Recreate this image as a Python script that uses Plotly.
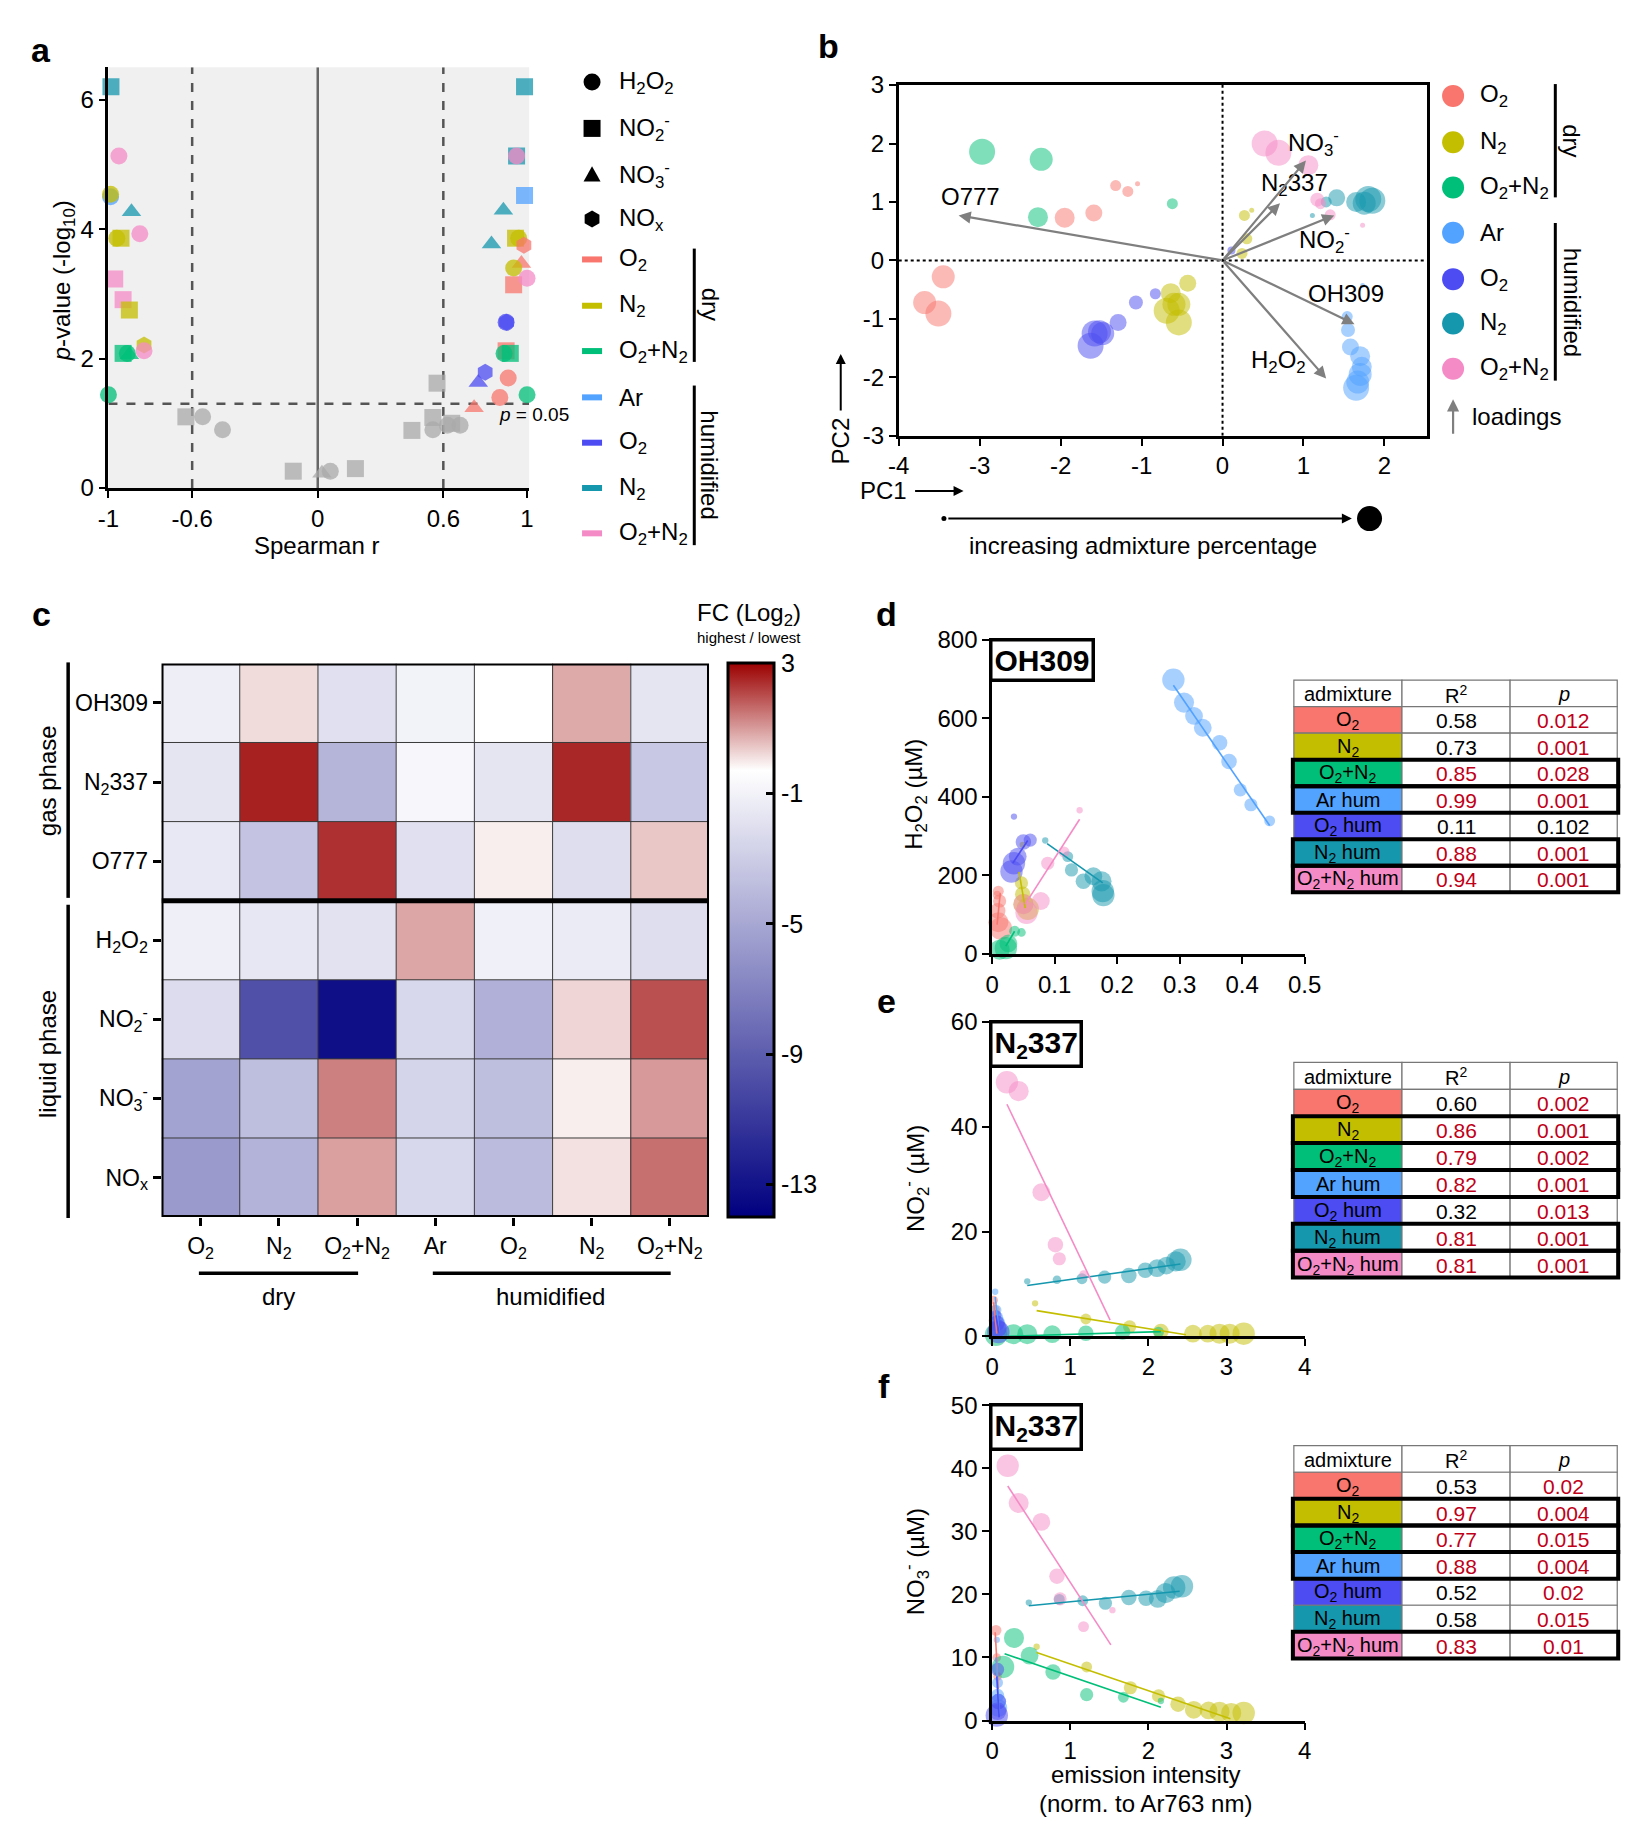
import plotly.graph_objects as go

W, H = 1640, 1828
FONT = "Liberation Sans, Arial, sans-serif"

# ---------------------------------------------------------------- categories
gas_keys = ["O2", "N2", "O2N2", "Ar_h", "O2_h", "N2_h", "O2N2_h"]
gas_color = {"O2": "#F8766D", "N2": "#C4BE00", "O2N2": "#00BF78", "Ar_h": "#52A2FF",
             "O2_h": "#4C4CF2", "N2_h": "#1597AE", "O2N2_h": "#F58BC6", "ns": "#A9A9A9"}
gas_names = ["O<sub>2</sub>", "N<sub>2</sub>", "O<sub>2</sub>+N<sub>2</sub>", "Ar",
             "O<sub>2</sub>", "N<sub>2</sub>", "O<sub>2</sub>+N<sub>2</sub>"]
table_names = ["O<sub>2</sub>", "N<sub>2</sub>", "O<sub>2</sub>+N<sub>2</sub>", "Ar hum",
               "O<sub>2</sub> hum", "N<sub>2</sub> hum", "O<sub>2</sub>+N<sub>2</sub> hum"]
species_names = ["H<sub>2</sub>O<sub>2</sub>", "NO<sub>2</sub><sup>-</sup>",
                 "NO<sub>3</sub><sup>-</sup>", "NO<sub>x</sub>"]
species_symbol = {"H2O2": "circle", "NO2": "square", "NO3": "triangle-up", "NOx": "hexagon"}

# ---------------------------------------------------------------- panel a (volcano)
a_r = [-0.988, -0.95, -0.99, -0.99, -0.89, -0.94, -0.96, -0.85, -0.97, -0.93, -0.90, -0.83,
       -0.83, -0.93, -0.90, -0.91, -1.0,
       -0.63, -0.55, -0.455, -0.117, 0.02, 0.06, 0.18, 0.45, 0.55, 0.55, 0.57, 0.64, 0.62, 0.68,
       0.988, 0.95, 0.95, 0.988, 0.887, 0.83, 0.945, 0.96, 0.985, 0.973, 0.936, 0.936, 1.0,
       0.902, 0.90, 0.90, 0.92, 0.89, 0.80, 0.767, 0.91, 0.87, 0.747, 1.0]
a_logp = [6.2, 5.13, 4.50, 4.54, 4.27, 3.86, 3.86, 3.93, 3.23, 2.91, 2.75, 2.21,
          2.12, 2.08, 2.06, 2.08, 1.44,
          1.10, 1.10, 0.90, 0.26, 0.23, 0.26, 0.30, 0.89, 0.90, 1.09, 1.62, 1.00, 0.97, 0.97,
          6.2, 5.13, 5.13, 4.52, 4.29, 3.77, 3.86, 3.86, 3.75, 3.47, 3.40, 3.14, 3.24,
          2.56, 2.56, 2.12, 2.08, 2.08, 1.79, 1.63, 1.70, 1.40, 1.24, 1.44]
a_species = ["NO2", "H2O2", "H2O2", "H2O2", "NO3", "NO2", "H2O2", "H2O2", "NO2", "NO2", "NO2", "NOx",
             "H2O2", "NO2", "NO3", "H2O2", "H2O2",
             "NO2", "H2O2", "H2O2", "NO2", "NO3", "H2O2", "NO2", "NO2", "H2O2", "NO2", "NO2", "NO2",
             "H2O2", "H2O2",
             "NO2", "NO2", "H2O2", "NO2", "NO3", "NO3", "NO2", "H2O2", "NOx", "NO3", "H2O2", "NO2",
             "H2O2", "NOx", "H2O2", "NO2", "NO2", "H2O2", "NOx", "NO3", "H2O2", "H2O2", "NO3", "H2O2"]
a_gas = ["N2_h", "O2N2_h", "Ar_h", "N2", "N2_h", "N2", "N2", "O2N2_h", "O2N2_h", "O2N2_h", "N2", "N2",
         "O2N2_h", "O2N2", "O2N2", "O2N2", "O2N2",
         "ns", "ns", "ns", "ns", "ns", "ns", "ns", "ns", "ns", "ns", "ns", "ns", "ns", "ns",
         "N2_h", "N2_h", "O2N2_h", "Ar_h", "N2_h", "N2_h", "N2", "N2", "O2", "O2", "N2", "O2",
         "O2N2_h", "O2_h", "O2_h", "O2", "O2N2", "O2N2", "O2_h", "O2_h", "O2", "O2", "O2", "O2N2"]

# ---------------------------------------------------------------- panel b (PCA)
b_gas = ["O2"] * 8 + ["O2N2"] * 4 + ["N2"] * 10 + ["O2_h"] * 8 + ["Ar_h"] * 9 + ["N2_h"] * 7 + ["O2N2_h"] * 7
b_pc1 = [-3.45, -3.68, -3.51, -1.95, -1.59, -1.32, -1.17, -1.05,
         -2.97, -2.24, -2.28, -0.62,
         -0.43, -0.64, -0.54, -0.69, -0.54, -0.60, 0.27, 0.36, 0.30, 0.24,
         -1.63, -1.58, -1.52, -1.48, -1.29, -1.07, -0.83, 0.11,
         1.54, 1.55, 1.58, 1.70, 1.72, 1.70, 1.67, 1.65, 1.73,
         1.75, 1.80, 1.85, 1.65, 1.41, 1.28, 1.11,
         0.52, 0.69, 1.06, 1.17, 1.33, 1.73, 1.21]
b_pc2 = [-0.28, -0.72, -0.91, 0.73, 0.81, 1.28, 1.18, 1.31,
         1.86, 1.73, 0.74, 0.97,
         -0.39, -0.56, -0.75, -0.86, -1.06, -0.75, 0.77, 0.86, 0.37, 0.12,
         -1.46, -1.25, -1.22, -1.25, -1.06, -0.72, -0.57, 0.17,
         -0.96, -1.19, -1.48, -1.64, -1.82, -1.95, -2.08, -2.18, -0.43,
         0.98, 1.05, 1.02, 1.00, 1.07, 1.00, 0.77,
         2.00, 1.84, 1.63, 1.04, 0.78, 0.60, 0.97]
b_admix = [7, 7, 8, 6, 5, 3, 3, 1,
           8, 7, 6, 3,
           5, 6, 7, 8, 8, 7, 3, 1, 3, 3,
           8, 8, 7, 7, 5, 4, 3, 2,
           3, 4, 5, 6, 6, 7, 7, 8, 1,
           7, 8, 8, 6, 5, 3, 1,
           8, 8, 6, 4, 3, 1, 3]
load_name = ["O777", "N<sub>2</sub>337", "NO<sub>3</sub><sup>-</sup>", "NO<sub>2</sub><sup>-</sup>",
             "OH309", "H<sub>2</sub>O<sub>2</sub>"]
load_pc1 = [-3.26, 0.71, 1.03, 1.38, 1.63, 1.28]
load_pc2 = [0.77, 0.98, 1.71, 0.77, -1.09, -2.02]

# ---------------------------------------------------------------- panel c (heatmap, FC log2)
hm_rows = ["OH309", "N<sub>2</sub>337", "O777", "H<sub>2</sub>O<sub>2</sub>",
           "NO<sub>2</sub><sup>-</sup>", "NO<sub>3</sub><sup>-</sup>", "NO<sub>x</sub>"]
hm_cols = gas_names
z_oh309 = [-1.2, 0.15, -1.95, -0.99, -0.3, 0.82, -1.67]
z_n2337 = [-1.67, 2.57, -4.27, -0.78, -1.67, 2.5, -3.26]
z_o777 = [-1.53, -3.45, 2.38, -1.95, -0.08, -2.08, 0.43]
z_h2o2 = [-1.16, -1.6, -1.85, 0.85, -1.1, -1.37, -2.08]
z_no2 = [-2.18, -9.7, -13.2, -2.4, -4.55, 0.24, 1.97]
z_no3 = [-5.24, -3.8, 1.35, -2.6, -3.8, -0.08, 1.02]
z_nox = [-5.7, -4.4, 0.93, -2.4, -3.95, 0.1, 1.55]
cbar_ticks = [3, -1, -5, -9, -13]

# ---------------------------------------------------------------- panel d (H2O2 vs OH309)
d_gas = ["O2"] * 6 + ["N2"] * 5 + ["O2N2"] * 5 + ["Ar_h"] * 9 + ["O2_h"] * 6 + ["N2_h"] * 8 + ["O2N2_h"] * 6
d_x = [0.008, 0.010, 0.012, 0.009, 0.010, 0.014,
       0.049, 0.047, 0.049, 0.050, 0.057,
       0.047, 0.036, 0.026, 0.012, 0.022,
       0.444, 0.414, 0.397, 0.379, 0.364, 0.337, 0.323, 0.307, 0.290,
       0.035, 0.061, 0.050, 0.041, 0.035, 0.031,
       0.085, 0.121, 0.127, 0.146, 0.162, 0.175, 0.177, 0.178,
       0.140, 0.115, 0.089, 0.078, 0.050, 0.055]
d_y = [150, 160, 135, 110, 81, 65,
       278, 181, 152, 127, 115,
       55, 58, 27, 11, 15,
       339, 380, 418, 490, 538, 576, 606, 640, 698,
       350, 290, 285, 248, 231, 210,
       289, 248, 214, 185, 198, 185, 160, 150,
       366, 260, 231, 135, 127, 105]
d_admix = [2, 3, 4, 5, 7, 8,
           1, 4, 5, 7, 8,
           2, 3, 6, 7, 8,
           3, 4, 4, 5, 5, 6, 6, 7, 8,
           1, 4, 5, 6, 8, 8,
           1, 3, 4, 5, 6, 7, 8, 8,
           1, 3, 4, 6, 7, 8]
d_fit_x0 = [0.008, 0.043, 0.022, 0.290, 0.033, 0.088, 0.053]
d_fit_x1 = [0.013, 0.053, 0.036, 0.444, 0.057, 0.177, 0.140]
d_fit_y0 = [75, 209, 20, 684, 231, 281, 127]
d_fit_y1 = [155, 117, 58, 327, 289, 181, 343]
d_r2 = [0.58, 0.73, 0.85, 0.99, 0.11, 0.88, 0.94]
d_p = [0.012, 0.001, 0.028, 0.001, 0.102, 0.001, 0.001]

# ---------------------------------------------------------------- panel e (NO2- vs N2 337)
e_gas = ["O2"] * 4 + ["N2"] * 9 + ["O2N2"] * 7 + ["Ar_h"] * 5 + ["O2_h"] * 4 + ["N2_h"] * 10 + ["O2N2_h"] * 6
e_x = [0.02, 0.03, 0.04, 0.05,
       0.55, 1.20, 1.76, 2.16, 2.57, 2.76, 2.91, 3.04, 3.22,
       0.05, 0.27, 0.45, 0.77, 1.20, 1.67, 2.13,
       0.04, 0.05, 0.06, 0.07, 0.08,
       0.05, 0.06, 0.07, 0.08,
       0.45, 0.83, 1.15, 1.44, 1.75, 1.96, 2.11, 2.23, 2.35, 2.41,
       0.19, 0.34, 0.63, 0.81, 0.86, 1.17]
e_y = [6.9, 5.0, 3.0, 1.0,
       6.3, 3.3, 1.8, 0.9, 0.5, 0.5, 0.5, 0.5, 0.5,
       0.3, 0.4, 0.4, 0.4, 0.6, 0.8, 0.8,
       8.5, 5.0, 3.5, 2.5, 1.5,
       4.0, 2.5, 1.5, 0.8,
       10.5, 10.8, 11.0, 11.3, 11.6, 12.6, 13.0, 13.5, 14.3, 14.6,
       48.5, 46.8, 27.5, 17.5, 14.8, 11.8]
e_admix = [2, 3, 4, 5,
           1, 3, 4, 5, 6, 6, 7, 7, 8,
           8, 7, 7, 6, 5, 5, 3,
           1, 3, 4, 5, 6,
           3, 5, 6, 8,
           1, 2, 3, 4, 5, 5, 6, 6, 7, 8,
           8, 7, 6, 5, 4, 2]
e_fit_x0 = [0.02, 0.57, 0.20, 0.04, 0.05, 0.45, 0.19]
e_fit_x1 = [0.06, 2.48, 2.16, 0.09, 0.09, 2.41, 1.51]
e_fit_y0 = [6.5, 4.9, 0.0, 7.5, 4.0, 9.7, 44.3]
e_fit_y1 = [0.5, 0.3, 0.9, 0.5, 0.5, 13.8, 3.1]
e_r2 = [0.60, 0.86, 0.79, 0.82, 0.32, 0.81, 0.81]
e_p = [0.002, 0.001, 0.002, 0.001, 0.013, 0.001, 0.001]

# ---------------------------------------------------------------- panel f (NO3- vs N2 337)
f_gas = ["O2"] * 3 + ["N2"] * 10 + ["O2N2"] * 7 + ["Ar_h"] * 5 + ["O2_h"] * 4 + ["N2_h"] * 10 + ["O2N2_h"] * 7
f_x = [0.05, 0.06, 0.07,
       0.57, 1.21, 1.77, 2.13, 2.38, 2.58, 2.77, 2.91, 3.06, 3.22,
       2.16, 1.68, 1.21, 0.78, 0.48, 0.28, 0.14,
       0.06, 0.07, 0.07, 0.08, 0.08,
       0.07, 0.08, 0.07, 0.06,
       0.47, 0.86, 1.16, 1.45, 1.75, 1.97, 2.12, 2.22, 2.33, 2.43,
       1.54, 1.17, 0.87, 0.83, 0.63, 0.34, 0.20]
f_y = [14.3, 10.0, 7.0,
       11.7, 8.5, 5.2, 3.9, 2.6, 1.7, 1.6, 1.4, 1.2, 1.2,
       3.1, 3.7, 4.1, 7.7, 10.3, 13.1, 8.5,
       12.8, 6.0, 4.0, 3.0, 2.0,
       8.1, 3.0, 1.5, 0.8,
       18.7, 19.2, 19.0, 18.6, 19.5, 19.4, 19.3, 20.2, 21.1, 21.3,
       17.5, 14.9, 19.3, 22.9, 31.5, 34.5, 40.4]
f_admix = [3, 2, 2,
           1, 3, 4, 4, 5, 6, 6, 7, 7, 8,
           1, 3, 4, 5, 6, 7, 8,
           1, 3, 4, 5, 6,
           4, 5, 6, 8,
           1, 3, 3, 4, 5, 5, 6, 7, 8, 8,
           1, 3, 4, 5, 6, 7, 8]
f_fit_x0 = [0.04, 0.57, 0.16, 0.05, 0.06, 0.47, 0.20]
f_fit_x1 = [0.08, 3.05, 2.16, 0.09, 0.09, 2.40, 1.52]
f_fit_y0 = [14.0, 10.8, 10.6, 10.0, 7.0, 18.2, 37.2]
f_fit_y1 = [5.0, 0.3, 2.1, 1.0, 0.5, 20.5, 12.0]
f_r2 = [0.53, 0.97, 0.77, 0.88, 0.52, 0.58, 0.83]
f_p = [0.02, 0.004, 0.015, 0.004, 0.02, 0.015, 0.01]


# ---------------------------------------------------------------- helpers
def px(x):
    return x / W


def py(y):
    return 1 - y / H


def lab(v):
    # plain hyphen minus like the original figure
    return f"{v:g}".replace("\u2212", "-")


ann = []
shapes = []


def txt(x, y, s, size=24, xa="center", ya="middle", angle=0, color="black"):
    ann.append(dict(x=px(x), y=py(y), xref="paper", yref="paper", text=s, showarrow=False,
                    font=dict(size=size, family=FONT, color=color), xanchor=xa, yanchor=ya,
                    textangle=angle))


def pline(x0, y0, x1, y1, w=3, color="black"):
    shapes.append(dict(type="line", xref="paper", yref="paper", x0=px(x0), y0=py(y0),
                       x1=px(x1), y1=py(y1), line=dict(color=color, width=w)))


def prect(x0, y0, x1, y1, fill="rgba(0,0,0,0)", lw=1, lc="#777777"):
    shapes.append(dict(type="rect", xref="paper", yref="paper", x0=px(x0), y0=py(y0),
                       x1=px(x1), y1=py(y1), fillcolor=fill, line=dict(color=lc, width=lw)))


def glyph(cx, cy, kind, size, color="black"):
    # legend key drawn as a pixel sized shape
    r = size / 2
    base = dict(xref="paper", yref="paper", xsizemode="pixel", ysizemode="pixel",
                xanchor=px(cx), yanchor=py(cy), fillcolor=color, line=dict(width=0))
    if kind == "circle":
        shapes.append(dict(type="circle", x0=-r, x1=r, y0=-r, y1=r, **base))
    elif kind == "square":
        shapes.append(dict(type="rect", x0=-r, x1=r, y0=-r, y1=r, **base))
    elif kind == "dash":
        shapes.append(dict(type="rect", x0=-r, x1=r, y0=-3, y1=3, **base))
    elif kind == "triangle-up":
        shapes.append(dict(type="path", path=f"M {-r},{-r*0.8} L {r},{-r*0.8} L 0,{r} Z", **base))
    elif kind == "hexagon":
        h = r * 0.87
        shapes.append(dict(type="path",
                           path=f"M 0,{r} L {h},{r/2} L {h},{-r/2} L 0,{-r} L {-h},{-r/2} L {-h},{r/2} Z",
                           **base))


axis = dict(showline=True, linecolor="black", linewidth=2.5, ticks="outside", ticklen=7,
            tickwidth=2, tickcolor="black", showgrid=False, zeroline=False,
            tickfont=dict(size=24, family=FONT, color="black"))

fig = go.Figure()

# ================================================================= panel a
fig.add_trace(go.Scatter(
    x=a_r, y=a_logp, mode="markers", xaxis="x", yaxis="y", cliponaxis=False, hoverinfo="skip",
    marker=dict(symbol=[species_symbol[s] for s in a_species],
                color=[gas_color[g] for g in a_gas], size=17, opacity=0.75, line=dict(width=0))))

shapes.append(dict(type="rect", xref="x domain", yref="y domain", x0=0, x1=1, y0=0, y1=1,
                   fillcolor="#F0F0F0", line=dict(width=0), layer="below"))
for xv in (-0.6, 0.6):
    shapes.append(dict(type="line", xref="x", yref="y", x0=xv, x1=xv, y0=0, y1=6.5,
                       line=dict(color="#555555", width=2.5, dash="dash"), layer="below"))
shapes.append(dict(type="line", xref="x", yref="y", x0=0, x1=0, y0=0, y1=6.5,
                   line=dict(color="#666666", width=2.5), layer="below"))
shapes.append(dict(type="line", xref="x", yref="y", x0=-1, x1=1.01, y0=1.301, y1=1.301,
                   line=dict(color="#555555", width=2.5, dash="dash"), layer="below"))

txt(524, 398, "<i>p</i> = 0.05", size=19)
txt(303, 531, "Spearman r", size=24)
txt(45, 263, "<i>p</i>-value (-log<sub>10</sub>)", size=24, angle=-90)

leg_a_y = [61, 108, 155, 200, 241, 288, 334, 381, 427, 473, 519]
for i, (name, kind) in enumerate(zip(species_names, ["circle", "square", "triangle-up", "hexagon"])):
    glyph(583, leg_a_y[i], kind, 17)
    txt(608, leg_a_y[i], name, size=24, xa="left")
for i, g in enumerate(gas_keys):
    glyph(583, leg_a_y[4 + i], "dash", 20, gas_color[g])
    txt(608, leg_a_y[4 + i], gas_names[i], size=24, xa="left")
pline(687, 230, 687, 345, w=3)
pline(687, 369, 687, 531, w=3)
txt(703, 287, "dry", size=24, angle=90)
txt(703, 450, "humidified", size=24, angle=90)

# ================================================================= panel b
fig.add_trace(go.Scatter(
    x=b_pc1, y=b_pc2, mode="markers", xaxis="x2", yaxis="y2", cliponaxis=False, hoverinfo="skip",
    marker=dict(color=[gas_color[g] for g in b_gas], size=[2 + 3 * a for a in b_admix],
                opacity=0.5, line=dict(width=0))))
shapes.append(dict(type="line", xref="x2", yref="y2", x0=0, x1=0, y0=-3, y1=3,
                   line=dict(color="black", width=2, dash="dot")))
shapes.append(dict(type="line", xref="x2", yref="y2", x0=-4, x1=2.52, y0=0, y1=0,
                   line=dict(color="black", width=2, dash="dot")))

label_shift = [(12, 19), (14, 19), (8, 17), (-10, -25), (-8, 31), (-48, 17)]
for name, lx, ly, (sx, sy) in zip(load_name, load_pc1, load_pc2, label_shift):
    ann.append(dict(x=lx, y=ly, xref="x2", yref="y2", ax=0, ay=0, axref="x2", ayref="y2",
                    text="", showarrow=True, arrowhead=2, arrowsize=1.1, arrowwidth=2.2,
                    arrowcolor="#7F7F7F"))
    ann.append(dict(x=lx, y=ly, xref="x2", yref="y2", text=name, showarrow=False,
                    xshift=sx, yshift=sy, font=dict(size=24, family=FONT, color="black")))

leg_b_y = [75, 122, 168, 214, 261, 306, 352]
for i, g in enumerate(gas_keys):
    glyph(1459, leg_b_y[i], "circle", 22, gas_color[g])
    txt(1484, leg_b_y[i], gas_names[i], size=24, xa="left")
pline(1563, 63, 1563, 178, w=3)
pline(1563, 204, 1563, 364, w=3)
txt(1580, 120, "dry", size=24, angle=90)
txt(1580, 284, "humidified", size=24, angle=90)
ann.append(dict(x=px(1459), y=py(383), xref="paper", yref="paper", ax=0, ay=36, text="",
                showarrow=True, arrowhead=2, arrowsize=1.1, arrowwidth=2.2, arrowcolor="#7F7F7F"))
txt(1476, 400, "loadings", size=24, xa="left")

txt(836, 425, "PC2", size=24, angle=-90)
ann.append(dict(x=px(836), y=py(337), xref="paper", yref="paper", ax=0, ay=58, text="",
                showarrow=True, arrowhead=2, arrowsize=1, arrowwidth=2, arrowcolor="black"))
txt(880, 476, "PC1", size=24)
ann.append(dict(x=px(961), y=py(476), xref="paper", yref="paper", ax=-50, ay=0, text="",
                showarrow=True, arrowhead=2, arrowsize=1, arrowwidth=2, arrowcolor="black"))
glyph(941, 504, "circle", 5)
glyph(1374, 504, "circle", 25)
ann.append(dict(x=px(1356), y=py(504), xref="paper", yref="paper", ax=-405, ay=0, text="",
                showarrow=True, arrowhead=2, arrowsize=1, arrowwidth=2, arrowcolor="black"))
txt(1144, 531, "increasing admixture percentage", size=24)

# ================================================================= panel c
z = [z_oh309, z_n2337, z_o777, z_h2o2, z_no2, z_no3, z_nox]
fig.add_trace(go.Heatmap(
    z=z, x=list(range(7)), y=list(range(7)), xaxis="x3", yaxis="y3", zmin=-14, zmax=3,
    hoverinfo="skip",
    colorscale=[[0, "#000080"], [0.806, "#FFFFFF"], [1, "#9B0000"]],
    colorbar=dict(thickness=46, thicknessmode="pixels", len=(1213 - 651) / H, lenmode="fraction",
                  x=px(721), xanchor="left", y=py(1213), yanchor="bottom", xpad=0, ypad=0,
                  outlinewidth=3, outlinecolor="black", tickvals=cbar_ticks,
                  ticktext=[lab(v) for v in cbar_ticks],
                  ticks="inside", ticklen=9, tickwidth=2.5, tickcolor="black",
                  tickfont=dict(size=25, family=FONT, color="black"))))
for k in range(1, 7):
    shapes.append(dict(type="line", xref="x3", yref="y3", x0=k - 0.5, x1=k - 0.5, y0=-0.5, y1=6.5,
                       line=dict(color="#3A3A3A", width=1)))
    if k != 3:
        shapes.append(dict(type="line", xref="x3", yref="y3", x0=-0.5, x1=6.5, y0=k - 0.5, y1=k - 0.5,
                           line=dict(color="#3A3A3A", width=1)))
shapes.append(dict(type="line", xref="x3", yref="y3", x0=-0.5, x1=6.5, y0=2.5, y1=2.5,
                   line=dict(color="black", width=5)))
shapes.append(dict(type="rect", xref="x3", yref="y3", x0=-0.5, x1=6.5, y0=-0.5, y1=6.5,
                   line=dict(color="black", width=4)))

txt(743, 601, "FC (Log<sub>2</sub>)", size=24)
txt(743, 625, "highest / lowest", size=15)
pline(50, 650, 50, 889, w=3.5)
pline(50, 896, 50, 1214, w=3.5)
txt(29, 770, "gas phase", size=24, angle=-90)
txt(29, 1048, "liquid phase", size=24, angle=-90)
pline(183, 1270, 345, 1270, w=3.5)
pline(421, 1270, 663, 1270, w=3.5)
txt(264, 1294, "dry", size=24)
txt(541, 1294, "humidified", size=24)


# ================================================================= panels d, e, f
def add_scatter(xa, ya, gas, xs, ys, admix, fx0, fx1, fy0, fy1):
    for gi, g in enumerate(gas_keys):
        idx = [i for i, gg in enumerate(gas) if gg == g]
        fig.add_trace(go.Scatter(
            x=[xs[i] for i in idx], y=[ys[i] for i in idx], mode="markers", xaxis=xa, yaxis=ya,
            cliponaxis=False, hoverinfo="skip",
            marker=dict(color=gas_color[g], size=[4 + 2.3 * admix[i] for i in idx], opacity=0.5,
                        line=dict(width=0))))
    for gi, g in enumerate(gas_keys):
        fig.add_trace(go.Scatter(
            x=[fx0[gi], fx1[gi]], y=[fy0[gi], fy1[gi]], mode="lines", xaxis=xa, yaxis=ya,
            cliponaxis=False, hoverinfo="skip", line=dict(color=gas_color[g], width=1.6)))


def add_table(top, row_h, r2, pv):
    xs = [1297, 1407, 1517, 1626]
    heads = ["admixture", "R<sup>2</sup>", "<i>p</i>"]
    for c in range(3):
        prect(xs[c], top, xs[c + 1], top + row_h, fill="white", lw=1.2)
        txt((xs[c] + xs[c + 1]) / 2, top + row_h / 2 + 1, heads[c], size=20)
    for i, g in enumerate(gas_keys):
        y0 = top + (i + 1) * row_h
        y1 = y0 + row_h
        prect(xs[0], y0, xs[1], y1, fill=gas_color[g], lw=1.2)
        prect(xs[1], y0, xs[2], y1, fill="white", lw=1.2)
        prect(xs[2], y0, xs[3], y1, fill="white", lw=1.2)
        strong = r2[i] >= 0.75
        txt((xs[0] + xs[1]) / 2, (y0 + y1) / 2 + 1, table_names[i], size=20)
        txt((xs[1] + xs[2]) / 2, (y0 + y1) / 2 + 1, f"{r2[i]:.2f}", size=21,
            color="#C00018" if strong else "black")
        txt((xs[2] + xs[3]) / 2, (y0 + y1) / 2 + 1, str(pv[i]), size=21,
            color="#C00018" if pv[i] < 0.05 else "black")
    for i in range(7):
        if r2[i] >= 0.75:
            y0 = top + (i + 1) * row_h
            prect(xs[0] - 1, y0, xs[3] + 1, y0 + row_h, lw=4, lc="black")


def add_box(x, y, s):
    ann.append(dict(x=px(x), y=py(y), xref="paper", yref="paper", text=s, showarrow=False,
                    xanchor="left", yanchor="top", bgcolor="white", bordercolor="black",
                    borderwidth=3.5, borderpad=2,
                    font=dict(size=30, family=FONT, color="black")))


add_scatter("x4", "y4", d_gas, d_x, d_y, d_admix, d_fit_x0, d_fit_x1, d_fit_y0, d_fit_y1)
add_scatter("x5", "y5", e_gas, e_x, e_y, e_admix, e_fit_x0, e_fit_x1, e_fit_y0, e_fit_y1)
add_scatter("x6", "y6", f_gas, f_x, f_y, f_admix, f_fit_x0, f_fit_x1, f_fit_y0, f_fit_y1)
add_table(668, 26.9, d_r2, d_p)
add_table(1056, 27.3, e_r2, e_p)
add_table(1445, 27.0, f_r2, f_p)
add_box(987, 625, "<b>OH309</b>")
add_box(987, 1013, "<b>N<sub>2</sub>337</b>")
add_box(987, 1402, "<b>N<sub>2</sub>337</b>")

txt(912, 784, "H<sub>2</sub>O<sub>2</sub> (µM)", size=24, angle=-90)
txt(912, 1174, "NO<sub>2</sub><sup>-</sup> (µM)", size=24, angle=-90)
txt(912, 1563, "NO<sub>3</sub><sup>-</sup> (µM)", size=24, angle=-90)
txt(1146, 1779, "emission intensity", size=24)
txt(1146, 1808, "(norm. to Ar763 nm)", size=24)

# panel letters
for lx, ly, s in [(22, 28, "a"), (824, 24, "b"), (23, 601, "c"), (883, 601, "d"),
                  (883, 994, "e"), (880, 1384, "f")]:
    txt(lx, ly, f"<b>{s}</b>", size=34)


def dom_x(a, b):
    return [a / W, b / W]


def dom_y(top, bot):
    return [1 - bot / H, 1 - top / H]


def ticks(vals):
    return dict(tickvals=vals, ticktext=[lab(v) for v in vals])


fig.update_layout(
    width=W, height=H, margin=dict(l=0, r=0, t=0, b=0), paper_bgcolor="white",
    plot_bgcolor="white", showlegend=False, font=dict(family=FONT, color="black"),
    annotations=ann, shapes=shapes,
    xaxis=dict(axis, domain=dom_x(91, 519), range=[-1, 1.01], anchor="y", **ticks([-1, -0.6, 0, 0.6, 1])),
    yaxis=dict(axis, domain=dom_y(46, 473), range=[0, 6.5], anchor="x", **ticks([0, 2, 4, 6])),
    xaxis2=dict(axis, domain=dom_x(895, 1432), range=[-4, 2.52], anchor="y2", mirror=True,
                **ticks([-4, -3, -2, -1, 0, 1, 2])),
    yaxis2=dict(axis, domain=dom_y(64, 420), range=[-3, 3], anchor="x2", mirror=True,
                **ticks([-3, -2, -1, 0, 1, 2, 3])),
    xaxis3=dict(axis, domain=dom_x(145, 702), range=[-0.5, 6.5], anchor="y3", showline=False,
                tickvals=list(range(7)), ticktext=hm_cols, ticklen=8, tickwidth=2.5,
                tickfont=dict(size=23, family=FONT, color="black")),
    yaxis3=dict(axis, domain=dom_y(651, 1213), range=[6.5, -0.5], anchor="x3", showline=False,
                tickvals=list(range(7)), ticktext=hm_rows, ticklen=8, tickwidth=2.5,
                tickfont=dict(size=23, family=FONT, color="black")),
    xaxis4=dict(axis, domain=dom_x(990, 1308), range=[0, 0.5], anchor="y4",
                **ticks([0, 0.1, 0.2, 0.3, 0.4, 0.5])),
    yaxis4=dict(axis, domain=dom_y(627, 946), range=[0, 800], anchor="x4", **ticks([0, 200, 400, 600, 800])),
    xaxis5=dict(axis, domain=dom_x(990, 1308), range=[0, 4], anchor="y5", **ticks([0, 1, 2, 3, 4])),
    yaxis5=dict(axis, domain=dom_y(1015, 1334), range=[0, 60], anchor="x5", **ticks([0, 20, 40, 60])),
    xaxis6=dict(axis, domain=dom_x(990, 1308), range=[0, 4], anchor="y6", **ticks([0, 1, 2, 3, 4])),
    yaxis6=dict(axis, domain=dom_y(1404, 1724), range=[0, 50], anchor="x6",
                **ticks([0, 10, 20, 30, 40, 50])),
)

fig.write_html("out.html")
